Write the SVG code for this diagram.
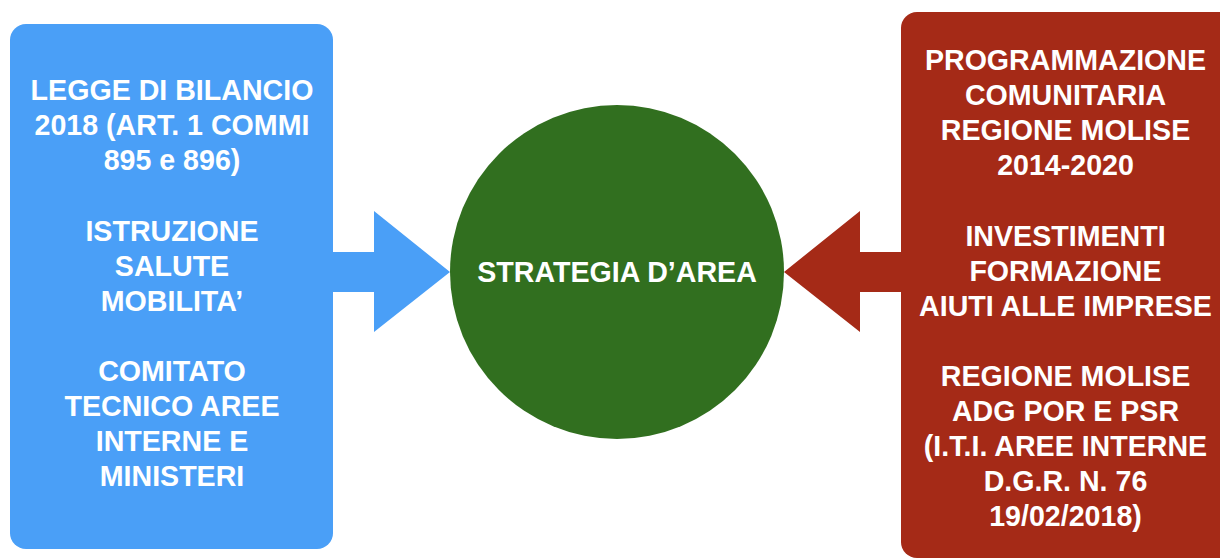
<svg xmlns="http://www.w3.org/2000/svg" width="1220" height="559" viewBox="0 0 1220 559">
<style>
.t{font-family:"Liberation Sans",Arial,Helvetica,sans-serif;font-weight:bold;font-size:28.6px;fill:#ffffff;text-anchor:middle}
</style>
<rect width="1220" height="559" fill="#ffffff"/>
<g id="connectors">
<polygon id="arrow-left" points="333,252 374,252 374,211 450,272 374,332 374,292 333,292" fill="#4A9FF7"/>
<polygon id="arrow-right" points="901,252 860,252 860,211 784,272 860,332 860,292 901,292" fill="#A52A17"/>
</g>
<g id="node-left">
<rect x="10" y="24" width="323" height="525" rx="16" ry="16" fill="#4A9FF7"/>
<text class="t" x="172" y="100">LEGGE DI BILANCIO</text>
<text class="t" x="172" y="135">2018 (ART. 1 COMMI</text>
<text class="t" x="172" y="170">895 e 896)</text>
<text class="t" x="172" y="241">ISTRUZIONE</text>
<text class="t" x="172" y="276">SALUTE</text>
<text class="t" x="172" y="311">MOBILITA’</text>
<text class="t" x="172" y="381">COMITATO</text>
<text class="t" x="172" y="416">TECNICO AREE</text>
<text class="t" x="172" y="451">INTERNE E</text>
<text class="t" x="172" y="486">MINISTERI</text>
</g>
<g id="node-center">
<circle cx="617" cy="272" r="167" fill="#316F1F"/>
<text class="t" x="617" y="282">STRATEGIA D’AREA</text>
</g>
<g id="node-right">
<rect x="901" y="12" width="340" height="546" rx="16" ry="16" fill="#A52A17"/>
<text class="t" x="1065.5" y="70">PROGRAMMAZIONE</text>
<text class="t" x="1065.5" y="105">COMUNITARIA</text>
<text class="t" x="1065.5" y="140">REGIONE MOLISE</text>
<text class="t" x="1065.5" y="175">2014-2020</text>
<text class="t" x="1065.5" y="246">INVESTIMENTI</text>
<text class="t" x="1065.5" y="281">FORMAZIONE</text>
<text class="t" x="1065.5" y="316">AIUTI ALLE IMPRESE</text>
<text class="t" x="1065.5" y="386">REGIONE MOLISE</text>
<text class="t" x="1065.5" y="421">ADG POR E PSR</text>
<text class="t" x="1065.5" y="456">(I.T.I. AREE INTERNE</text>
<text class="t" x="1065.5" y="491">D.G.R. N. 76</text>
<text class="t" x="1065.5" y="526">19/02/2018)</text>
</g>
</svg>
